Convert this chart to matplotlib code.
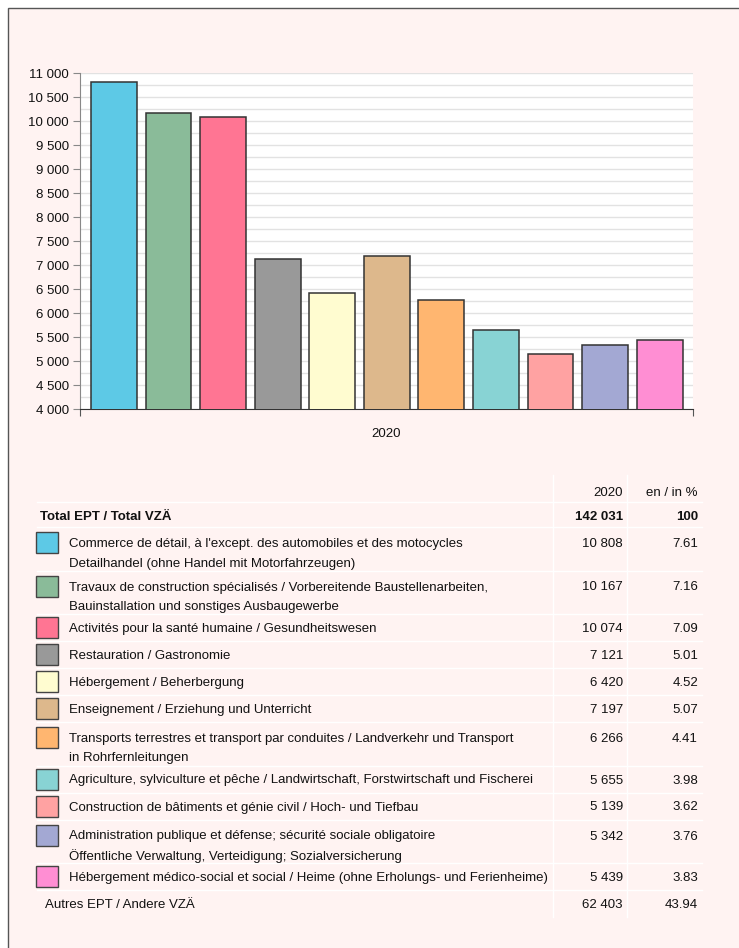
import matplotlib
matplotlib.use("Agg")
import matplotlib.pyplot as plt
from matplotlib.patches import Rectangle
from matplotlib.ticker import FuncFormatter, MultipleLocator

plt.rcParams["font.family"] = ["Liberation Sans", "DejaVu Sans"]
plt.rcParams["font.size"] = 9.5

# ---- data -----------------------------------------------------------------
year = "2020"
labels = [
    "Commerce de détail, à l'except. des automobiles et des motocycles\n"
    "Detailhandel (ohne Handel mit Motorfahrzeugen)",
    "Travaux de construction spécialisés / Vorbereitende Baustellenarbeiten,\n"
    "Bauinstallation und sonstiges Ausbaugewerbe",
    "Activités pour la santé humaine / Gesundheitswesen",
    "Restauration / Gastronomie",
    "Hébergement / Beherbergung",
    "Enseignement / Erziehung und Unterricht",
    "Transports terrestres et transport par conduites / Landverkehr und Transport\n"
    "in Rohrfernleitungen",
    "Agriculture, sylviculture et pêche / Landwirtschaft, Forstwirtschaft und Fischerei",
    "Construction de bâtiments et génie civil / Hoch- und Tiefbau",
    "Administration publique et défense; sécurité sociale obligatoire\n"
    "Öffentliche Verwaltung, Verteidigung; Sozialversicherung",
    "Hébergement médico-social et social / Heime (ohne Erholungs- und Ferienheime)",
]
values = [10808, 10167, 10074, 7121, 6420, 7197, 6266, 5655, 5139, 5342, 5439]
shares = [7.61, 7.16, 7.09, 5.01, 4.52, 5.07, 4.41, 3.98, 3.62, 3.76, 3.83]
colors = ["#5DC9E6", "#8ABB99", "#FF7593", "#999999", "#FFFCD0", "#DDB88C",
          "#FFB670", "#88D3D4", "#FFA2A2", "#A3A8D3", "#FF8ED3"]
total_label = "Total EPT / Total VZÄ"
total_value = 142031
total_share = 100
other_label = "Autres EPT / Andere VZÄ"
other_value = 62403
other_share = 43.94

BG = "#FFF3F2"
TXT = "#111111"
W, H = 739, 948


def fmt(v):
    return f"{v:,.0f}".replace(",", " ")


fig = plt.figure(figsize=(W / 100, H / 100), dpi=100)
fig.patch.set_facecolor("white")

# layout axes in pixel coordinates (frame + table)
lay = fig.add_axes([0, 0, 1, 1], zorder=0)
lay.set_xlim(0, W)
lay.set_ylim(H, 0)
lay.axis("off")
lay.add_patch(Rectangle((7.5, 7.5), W, H, facecolor=BG, edgecolor="#555555", lw=1))

# ---- bar chart --------------------------------------------------------------
ax = fig.add_axes([80 / W, 1 - 409 / H, 613 / W, 336 / H], zorder=1)
ax.set_facecolor("white")
x = range(len(values))
ax.bar(x, values, width=0.84, color=colors, edgecolor="#333333", lw=1.1, zorder=3)
ax.set_ylim(4000, 11000)
ax.set_xlim(-0.62, 10.61)
ax.yaxis.set_major_locator(MultipleLocator(500))
ax.yaxis.set_minor_locator(MultipleLocator(250))
ax.yaxis.set_major_formatter(FuncFormatter(lambda v, p: fmt(v)))
ax.grid(axis="y", which="both", color="#E2E2E2", lw=1, zorder=0)
ax.tick_params(axis="y", which="major", length=5, color="#888888", pad=3,
               labelsize=9.5, labelcolor=TXT)
ax.tick_params(axis="y", which="minor", length=0)
ax.set_xticks(ax.get_xlim())
ax.set_xticklabels([])
ax.tick_params(axis="x", length=5, color="#555555")
for s in ("top", "right"):
    ax.spines[s].set_visible(False)
ax.spines["left"].set_color("#888888")
ax.spines["bottom"].set_color("#333333")
ax.text(0.5, -0.07, year, transform=ax.transAxes, ha="center", va="center_baseline",
        color=TXT)

# ---- table ------------------------------------------------------------------
line_c = "white"
col_val, col_pct = 623, 698
kw = dict(va="center_baseline", color=TXT)
lay.text(col_val, 491, year, ha="right", **kw)
lay.text(col_pct, 491, "en / in %", ha="right", **kw)
lay.plot([37, 702], [501.5, 501.5], color=line_c, lw=1)
lay.text(40, 515, total_label, ha="left", fontweight="bold", **kw)
lay.text(col_val, 515, fmt(total_value), ha="right", fontweight="bold", **kw)
lay.text(col_pct, 515, f"{total_share}", ha="right", fontweight="bold", **kw)
top = 527
lay.plot([37, 702], [top, top], color=line_c, lw=1)
for lab, v, s, c in zip(labels, values, shares, colors):
    lines = lab.split("\n")
    h = 27 if len(lines) == 1 else 43.5
    y0 = top + h / 2 if len(lines) == 1 else top + 15.5
    lay.add_patch(Rectangle((36, y0 - 10.5), 22, 21, facecolor=c, edgecolor="#444444",
                            lw=1))
    for i, ln in enumerate(lines):
        lay.text(69, y0 + 19.5 * i, ln, ha="left", **kw)
    lay.text(col_val, y0, fmt(v), ha="right", **kw)
    lay.text(col_pct, y0, f"{s:.2f}", ha="right", **kw)
    top += h
    lay.plot([37, 702], [top, top], color=line_c, lw=1)
y0 = top + 13.5
lay.text(45, y0, other_label, ha="left", **kw)
lay.text(col_val, y0, fmt(other_value), ha="right", **kw)
lay.text(col_pct, y0, f"{other_share:.2f}", ha="right", **kw)
for xv in (553, 627):
    lay.plot([xv, xv], [475, top + 27], color=line_c, lw=1)

fig.savefig("out.png", dpi=100, facecolor=fig.get_facecolor())
